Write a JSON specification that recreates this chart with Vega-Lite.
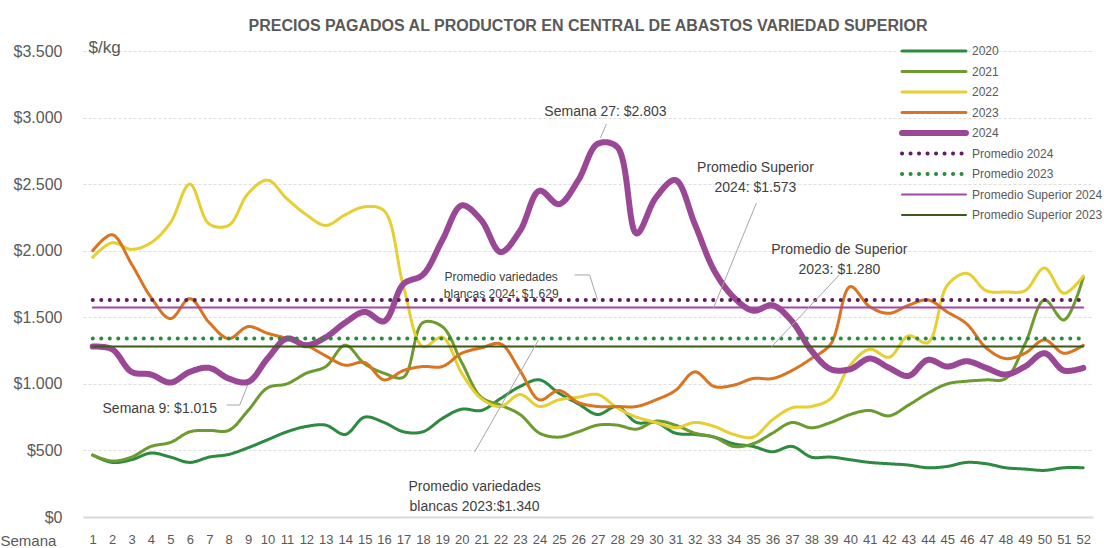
{
  "$schema": "https://vega.github.io/schema/vega-lite/v6.json",
  "width": 1010,
  "height": 466,
  "autosize": {"type": "none"},
  "padding": {"left": 83, "top": 51, "right": 11, "bottom": 31},
  "background": "white",
  "title": {
    "text": "PRECIOS PAGADOS AL PRODUCTOR EN CENTRAL DE ABASTOS VARIEDAD SUPERIOR",
    "fontSize": 16,
    "fontWeight": "bold",
    "color": "#595959",
    "font": "Liberation Sans",
    "anchor": "middle",
    "frame": "group",
    "baseline": "middle",
    "offset": -4
  },
  "config": {
    "view": {"stroke": null},
    "font": "Liberation Sans",
    "legend": {
      "title": null,
      "padding": 0,
      "symbolType": "stroke",
      "symbolSize": 4096,
      "clipHeight": 20,
      "rowPadding": 0.5,
      "labelFontSize": 12,
      "labelColor": "#595959",
      "labelFont": "Liberation Sans",
      "labelOffset": 3,
      "symbolOffset": 0
    }
  },
  "datasets": {
    "series": [
      {"s":"2020","w":1,"v":465},{"s":"2020","w":2,"v":410},{"s":"2020","w":3,"v":430},{"s":"2020","w":4,"v":480},{"s":"2020","w":5,"v":450},{"s":"2020","w":6,"v":410},{"s":"2020","w":7,"v":450},{"s":"2020","w":8,"v":470},{"s":"2020","w":9,"v":520},{"s":"2020","w":10,"v":580},{"s":"2020","w":11,"v":640},{"s":"2020","w":12,"v":680},{"s":"2020","w":13,"v":690},{"s":"2020","w":14,"v":620},{"s":"2020","w":15,"v":750},{"s":"2020","w":16,"v":710},{"s":"2020","w":17,"v":640},{"s":"2020","w":18,"v":640},{"s":"2020","w":19,"v":740},{"s":"2020","w":20,"v":810},{"s":"2020","w":21,"v":800},{"s":"2020","w":22,"v":890},{"s":"2020","w":23,"v":980},{"s":"2020","w":24,"v":1030},{"s":"2020","w":25,"v":930},{"s":"2020","w":26,"v":850},{"s":"2020","w":27,"v":770},{"s":"2020","w":28,"v":830},{"s":"2020","w":29,"v":710},{"s":"2020","w":30,"v":710},{"s":"2020","w":31,"v":630},{"s":"2020","w":32,"v":620},{"s":"2020","w":33,"v":600},{"s":"2020","w":34,"v":550},{"s":"2020","w":35,"v":530},{"s":"2020","w":36,"v":490},{"s":"2020","w":37,"v":530},{"s":"2020","w":38,"v":450},{"s":"2020","w":39,"v":450},{"s":"2020","w":40,"v":430},{"s":"2020","w":41,"v":410},{"s":"2020","w":42,"v":400},{"s":"2020","w":43,"v":390},{"s":"2020","w":44,"v":370},{"s":"2020","w":45,"v":380},{"s":"2020","w":46,"v":410},{"s":"2020","w":47,"v":400},{"s":"2020","w":48,"v":370},{"s":"2020","w":49,"v":360},{"s":"2020","w":50,"v":350},{"s":"2020","w":51,"v":370},{"s":"2020","w":52,"v":370},
      {"s":"2021","w":1,"v":465},{"s":"2021","w":2,"v":420},{"s":"2021","w":3,"v":450},{"s":"2021","w":4,"v":530},{"s":"2021","w":5,"v":560},{"s":"2021","w":6,"v":640},{"s":"2021","w":7,"v":650},{"s":"2021","w":8,"v":650},{"s":"2021","w":9,"v":800},{"s":"2021","w":10,"v":970},{"s":"2021","w":11,"v":1000},{"s":"2021","w":12,"v":1080},{"s":"2021","w":13,"v":1130},{"s":"2021","w":14,"v":1290},{"s":"2021","w":15,"v":1150},{"s":"2021","w":16,"v":1080},{"s":"2021","w":17,"v":1050},{"s":"2021","w":18,"v":1460},{"s":"2021","w":19,"v":1430},{"s":"2021","w":20,"v":1160},{"s":"2021","w":21,"v":900},{"s":"2021","w":22,"v":840},{"s":"2021","w":23,"v":770},{"s":"2021","w":24,"v":630},{"s":"2021","w":25,"v":600},{"s":"2021","w":26,"v":640},{"s":"2021","w":27,"v":690},{"s":"2021","w":28,"v":690},{"s":"2021","w":29,"v":660},{"s":"2021","w":30,"v":720},{"s":"2021","w":31,"v":690},{"s":"2021","w":32,"v":630},{"s":"2021","w":33,"v":600},{"s":"2021","w":34,"v":530},{"s":"2021","w":35,"v":550},{"s":"2021","w":36,"v":630},{"s":"2021","w":37,"v":710},{"s":"2021","w":38,"v":670},{"s":"2021","w":39,"v":710},{"s":"2021","w":40,"v":770},{"s":"2021","w":41,"v":800},{"s":"2021","w":42,"v":760},{"s":"2021","w":43,"v":840},{"s":"2021","w":44,"v":930},{"s":"2021","w":45,"v":1000},{"s":"2021","w":46,"v":1020},{"s":"2021","w":47,"v":1030},{"s":"2021","w":48,"v":1040},{"s":"2021","w":49,"v":1300},{"s":"2021","w":50,"v":1630},{"s":"2021","w":51,"v":1480},{"s":"2021","w":52,"v":1800},
      {"s":"2022","w":1,"v":1950},{"s":"2022","w":2,"v":2060},{"s":"2022","w":3,"v":2010},{"s":"2022","w":4,"v":2060},{"s":"2022","w":5,"v":2210},{"s":"2022","w":6,"v":2500},{"s":"2022","w":7,"v":2200},{"s":"2022","w":8,"v":2190},{"s":"2022","w":9,"v":2430},{"s":"2022","w":10,"v":2530},{"s":"2022","w":11,"v":2390},{"s":"2022","w":12,"v":2270},{"s":"2022","w":13,"v":2190},{"s":"2022","w":14,"v":2270},{"s":"2022","w":15,"v":2330},{"s":"2022","w":16,"v":2300},{"s":"2022","w":17,"v":1730},{"s":"2022","w":18,"v":1280},{"s":"2022","w":19,"v":1350},{"s":"2022","w":20,"v":1080},{"s":"2022","w":21,"v":890},{"s":"2022","w":22,"v":830},{"s":"2022","w":23,"v":920},{"s":"2022","w":24,"v":830},{"s":"2022","w":25,"v":880},{"s":"2022","w":26,"v":900},{"s":"2022","w":27,"v":920},{"s":"2022","w":28,"v":820},{"s":"2022","w":29,"v":750},{"s":"2022","w":30,"v":710},{"s":"2022","w":31,"v":670},{"s":"2022","w":32,"v":710},{"s":"2022","w":33,"v":680},{"s":"2022","w":34,"v":620},{"s":"2022","w":35,"v":600},{"s":"2022","w":36,"v":730},{"s":"2022","w":37,"v":820},{"s":"2022","w":38,"v":830},{"s":"2022","w":39,"v":890},{"s":"2022","w":40,"v":1140},{"s":"2022","w":41,"v":1260},{"s":"2022","w":42,"v":1200},{"s":"2022","w":43,"v":1360},{"s":"2022","w":44,"v":1310},{"s":"2022","w":45,"v":1740},{"s":"2022","w":46,"v":1830},{"s":"2022","w":47,"v":1700},{"s":"2022","w":48,"v":1690},{"s":"2022","w":49,"v":1700},{"s":"2022","w":50,"v":1870},{"s":"2022","w":51,"v":1680},{"s":"2022","w":52,"v":1810},
      {"s":"2023","w":1,"v":2000},{"s":"2023","w":2,"v":2120},{"s":"2023","w":3,"v":1900},{"s":"2023","w":4,"v":1650},{"s":"2023","w":5,"v":1490},{"s":"2023","w":6,"v":1640},{"s":"2023","w":7,"v":1460},{"s":"2023","w":8,"v":1340},{"s":"2023","w":9,"v":1430},{"s":"2023","w":10,"v":1380},{"s":"2023","w":11,"v":1340},{"s":"2023","w":12,"v":1290},{"s":"2023","w":13,"v":1210},{"s":"2023","w":14,"v":1140},{"s":"2023","w":15,"v":1160},{"s":"2023","w":16,"v":1030},{"s":"2023","w":17,"v":1100},{"s":"2023","w":18,"v":1130},{"s":"2023","w":19,"v":1130},{"s":"2023","w":20,"v":1230},{"s":"2023","w":21,"v":1270},{"s":"2023","w":22,"v":1300},{"s":"2023","w":23,"v":1100},{"s":"2023","w":24,"v":880},{"s":"2023","w":25,"v":950},{"s":"2023","w":26,"v":860},{"s":"2023","w":27,"v":830},{"s":"2023","w":28,"v":830},{"s":"2023","w":29,"v":830},{"s":"2023","w":30,"v":880},{"s":"2023","w":31,"v":950},{"s":"2023","w":32,"v":1090},{"s":"2023","w":33,"v":980},{"s":"2023","w":34,"v":990},{"s":"2023","w":35,"v":1040},{"s":"2023","w":36,"v":1040},{"s":"2023","w":37,"v":1100},{"s":"2023","w":38,"v":1190},{"s":"2023","w":39,"v":1300},{"s":"2023","w":40,"v":1730},{"s":"2023","w":41,"v":1580},{"s":"2023","w":42,"v":1530},{"s":"2023","w":43,"v":1590},{"s":"2023","w":44,"v":1630},{"s":"2023","w":45,"v":1540},{"s":"2023","w":46,"v":1450},{"s":"2023","w":47,"v":1270},{"s":"2023","w":48,"v":1190},{"s":"2023","w":49,"v":1230},{"s":"2023","w":50,"v":1330},{"s":"2023","w":51,"v":1230},{"s":"2023","w":52,"v":1290},
      {"s":"2024","w":1,"v":1280},{"s":"2024","w":2,"v":1260},{"s":"2024","w":3,"v":1090},{"s":"2024","w":4,"v":1070},{"s":"2024","w":5,"v":1010},{"s":"2024","w":6,"v":1090},{"s":"2024","w":7,"v":1120},{"s":"2024","w":8,"v":1040},{"s":"2024","w":9,"v":1015},{"s":"2024","w":10,"v":1190},{"s":"2024","w":11,"v":1340},{"s":"2024","w":12,"v":1290},{"s":"2024","w":13,"v":1350},{"s":"2024","w":14,"v":1460},{"s":"2024","w":15,"v":1540},{"s":"2024","w":16,"v":1470},{"s":"2024","w":17,"v":1750},{"s":"2024","w":18,"v":1820},{"s":"2024","w":19,"v":2080},{"s":"2024","w":20,"v":2340},{"s":"2024","w":21,"v":2230},{"s":"2024","w":22,"v":1990},{"s":"2024","w":23,"v":2150},{"s":"2024","w":24,"v":2450},{"s":"2024","w":25,"v":2350},{"s":"2024","w":26,"v":2530},{"s":"2024","w":27,"v":2803},{"s":"2024","w":28,"v":2780},{"s":"2024","w":29,"v":2130},{"s":"2024","w":30,"v":2400},{"s":"2024","w":31,"v":2530},{"s":"2024","w":32,"v":2200},{"s":"2024","w":33,"v":1850},{"s":"2024","w":34,"v":1650},{"s":"2024","w":35,"v":1550},{"s":"2024","w":36,"v":1590},{"s":"2024","w":37,"v":1470},{"s":"2024","w":38,"v":1250},{"s":"2024","w":39,"v":1110},{"s":"2024","w":40,"v":1110},{"s":"2024","w":41,"v":1190},{"s":"2024","w":42,"v":1120},{"s":"2024","w":43,"v":1060},{"s":"2024","w":44,"v":1180},{"s":"2024","w":45,"v":1130},{"s":"2024","w":46,"v":1170},{"s":"2024","w":47,"v":1120},{"s":"2024","w":48,"v":1070},{"s":"2024","w":49,"v":1130},{"s":"2024","w":50,"v":1230},{"s":"2024","w":51,"v":1100},{"s":"2024","w":52,"v":1120},
      {"s":"Promedio 2024","w":1,"v":1629},{"s":"Promedio 2024","w":52,"v":1629},
      {"s":"Promedio 2023","w":1,"v":1340},{"s":"Promedio 2023","w":52,"v":1340},
      {"s":"Promedio Superior 2024","w":1,"v":1573},{"s":"Promedio Superior 2024","w":52,"v":1573},
      {"s":"Promedio Superior 2023","w":1,"v":1280},{"s":"Promedio Superior 2023","w":52,"v":1280}
    ],
    "leaders": [
      {"id":"a","o":1,"w":27.45,"v":2952},{"id":"a","o":2,"w":27.14,"v":2847},
      {"id":"b","o":1,"w":35.17,"v":2358},{"id":"b","o":2,"w":32.96,"v":1570},
      {"id":"c","o":1,"w":39.44,"v":1818},{"id":"c","o":2,"w":35.94,"v":1277},
      {"id":"d","o":1,"w":25.81,"v":1818},{"id":"d","o":2,"w":26.58,"v":1818},{"id":"d","o":3,"w":27.0,"v":1629},
      {"id":"e","o":1,"w":7.9,"v":841},{"id":"e","o":2,"w":8.57,"v":841},{"id":"e","o":3,"w":8.98,"v":991},
      {"id":"f","o":1,"w":20.66,"v":488},{"id":"f","o":2,"w":23.95,"v":1329}
    ],
    "notes": [
      {"k":"big","w":27.4,"v":3042,"t":"Semana 27: $2.803"},
      {"k":"big","w":35.12,"v":2625,"t":"Promedio Superior\n2024: $1.573"},
      {"k":"big","w":39.44,"v":2005,"t":"Promedio de Superior\n2023: $1.280"},
      {"k":"small","w":22.03,"v":1799,"t":"Promedio variedades\nblancas 2024: $1.629"},
      {"k":"big","w":4.45,"v":811,"t":"Semana 9: $1.015"},
      {"k":"big","w":20.66,"v":225,"t":"Promedio variedades\nblancas 2023:$1.340"}
    ]
  },
  "encoding": {
    "x": {
      "field": "w", "type": "quantitative",
      "scale": {"domain": [0.5, 52.5], "nice": false, "zero": false},
      "axis": {
        "values": [1,2,3,4,5,6,7,8,9,10,11,12,13,14,15,16,17,18,19,20,21,22,23,24,25,26,27,28,29,30,31,32,33,34,35,36,37,38,39,40,41,42,43,44,45,46,47,48,49,50,51,52],
        "title": "Semana",
        "titleX": -83, "titleY": 23, "titleAlign": "left", "titleBaseline": "middle", "titleAngle": 0,
        "titleFontSize": 15, "titleFontWeight": "normal", "titleColor": "#595959",
        "labelFontSize": 13, "labelColor": "#595959", "labelPadding": 16, "labelFlush": false, "labelOverlap": false,
        "ticks": false, "grid": false,
        "domainColor": "#D9D9D9", "domainWidth": 2
      }
    },
    "y": {
      "field": "v", "type": "quantitative",
      "scale": {"domain": [0, 3500], "nice": false},
      "axis": {
        "values": [0, 500, 1000, 1500, 2000, 2500, 3000, 3500],
        "labelExpr": "'$' + replace(format(datum.value, ','), ',', '.')",
        "title": "$/kg",
        "titleX": 5, "titleY": -4, "titleAlign": "left", "titleBaseline": "middle", "titleAngle": 0,
        "titleFontSize": 17, "titleFontWeight": "normal", "titleColor": "#595959",
        "labelFontSize": 16, "labelColor": "#595959", "labelPadding": 21,
        "ticks": false, "domain": false,
        "grid": true, "gridColor": "#DEDEDE", "gridDash": [3, 2], "gridWidth": 1
      }
    }
  },
  "layer": [
    {
      "data": {"name": "series"},
      "mark": {"type": "line", "interpolate": "catmull-rom", "strokeCap": "round", "strokeJoin": "round"},
      "encoding": {
        "color": {
          "field": "s", "type": "nominal",
          "scale": {
            "domain": ["2020","2021","2022","2023","2024","Promedio 2024","Promedio 2023","Promedio Superior 2024","Promedio Superior 2023"],
            "range": ["#2D8A40","#6E9B2F","#E5CF33","#DA7420","#9A4896","#5E1F5C","#2E8B3E","#A248A2","#3B5A1A"]
          },
          "legend": {"orient": "none", "legendX": 816, "legendY": -10, "encode": {"symbols": {"update": {"strokeCap": {"value": "round"}}}}}
        },
        "strokeDash": {
          "field": "s", "type": "nominal",
          "scale": {
            "domain": ["2020","2021","2022","2023","2024","Promedio 2024","Promedio 2023","Promedio Superior 2024","Promedio Superior 2023"],
            "range": [[1,0],[1,0],[1,0],[1,0],[1,0],[0.1,8.4],[0.1,8.4],[1,0],[1,0]]
          },
          "legend": {"orient": "none", "legendX": 816, "legendY": -10}
        },
        "strokeWidth": {
          "field": "s", "type": "nominal",
          "scale": {
            "type": "ordinal",
            "domain": ["2020","2021","2022","2023","2024","Promedio 2024","Promedio 2023","Promedio Superior 2024","Promedio Superior 2023"],
            "range": [3,3,3,3,6,4,4,2,2]
          },
          "legend": {"orient": "none", "legendX": 816, "legendY": -10}
        }
      }
    },
    {
      "data": {"name": "leaders"},
      "mark": {"type": "line", "color": "#A6A6A6", "strokeWidth": 1},
      "encoding": {
        "detail": {"field": "id"},
        "order": {"field": "o"}
      }
    },
    {
      "data": {"name": "notes"},
      "transform": [{"filter": "datum.k == 'big'"}],
      "mark": {"type": "text", "fontSize": 14, "color": "#404040", "lineBreak": "\n", "lineHeight": 20, "align": "center", "baseline": "middle"},
      "encoding": {
        "text": {"field": "t"}
      }
    },
    {
      "data": {"name": "notes"},
      "transform": [{"filter": "datum.k == 'small'"}],
      "mark": {"type": "text", "fontSize": 12, "color": "#404040", "lineBreak": "\n", "lineHeight": 17, "align": "center", "baseline": "middle"},
      "encoding": {
        "text": {"field": "t"}
      }
    }
  ]
}
